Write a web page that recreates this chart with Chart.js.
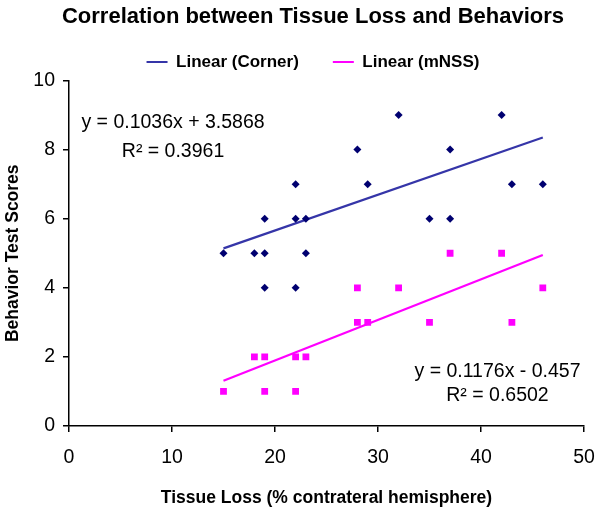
<!DOCTYPE html>
<html>
<head>
<meta charset="utf-8">
<script src="https://cdn.jsdelivr.net/npm/chart.js@4"></script>
<style>
  html, body { margin: 0; padding: 0; background: #fff; }
  #wrap { width: 600px; height: 513px; }
</style>
</head>
<body>
<div id="wrap"><canvas id="scatterChart" width="600" height="513"></canvas></div>
<script>
// Corner test scores vs tissue loss
const cornerX = [15, 18, 19, 19, 19, 22, 22, 22, 23, 23, 28, 29, 32, 35, 37, 37, 42, 43, 46];
const cornerY = [5, 5, 6, 5, 4, 7, 6, 4, 6, 5, 8, 7, 9, 6, 8, 6, 9, 7, 7];

// mNSS scores vs tissue loss
const mnssX = [15, 18, 19, 19, 22, 22, 23, 28, 28, 29, 32, 35, 37, 42, 43, 46];
const mnssY = [1, 2, 2, 1, 2, 1, 2, 4, 3, 3, 4, 3, 5, 5, 3, 4];

// trendline ends
const cornerTrendX = [15, 46];
const cornerTrendY = [5.14, 8.35];
const mnssTrendX = [15, 46];
const mnssTrendY = [1.31, 4.95];

const xTicks = [0, 10, 20, 30, 40, 50];
const yTicks = [0, 2, 4, 6, 8, 10];

// equation labels and where they sit (in data units)
const cornerEq = ["y = 0.1036x + 3.5868", "R\u00b2 = 0.3961"];
const cornerEqAt = [10.1, 8.78];
const mnssEq = ["y = 0.1176x - 0.457", "R\u00b2 = 0.6502"];
const mnssEqAt = [41.6, 1.57];

const FONT = "'Liberation Sans', Arial, sans-serif";

const toPoints = (xs, ys) => xs.map((x, i) => ({ x: x, y: ys[i] }));

// draws the two regression equations
const equationPlugin = {
  id: "equations",
  afterDatasetsDraw(chart) {
    const ctx = chart.ctx;
    const xs = chart.scales.x;
    const ys = chart.scales.y;
    ctx.save();
    ctx.fillStyle = "#000";
    ctx.font = "19.5px " + FONT;
    ctx.textAlign = "center";
    ctx.textBaseline = "middle";
    [[cornerEq, cornerEqAt, 29], [mnssEq, mnssEqAt, 24]].forEach(([lines, at, gap]) => {
      const px = xs.getPixelForValue(at[0]);
      const py = ys.getPixelForValue(at[1]);
      ctx.fillText(lines[0], px, py);
      ctx.fillText(lines[1], px, py + gap);
    });
    ctx.restore();
  },
};

const ctx = document.getElementById("scatterChart");

new Chart(ctx, {
  type: "scatter",
  data: {
    datasets: [
      {
        label: "Corner",
        data: toPoints(cornerX, cornerY),
        pointStyle: "rectRot",
        pointRadius: 4,
        backgroundColor: "#000070",
        borderColor: "#000070",
        borderWidth: 0,
      },
      {
        label: "mNSS",
        data: toPoints(mnssX, mnssY),
        pointStyle: "rect",
        pointRadius: 4.8,
        backgroundColor: "#ff00ff",
        borderColor: "#ff00ff",
        borderWidth: 0,
      },
      {
        label: "Linear (Corner)",
        data: toPoints(cornerTrendX, cornerTrendY),
        showLine: true,
        pointRadius: 0,
        borderColor: "#3535a8",
        backgroundColor: "#3535a8",
        borderWidth: 2.2,
        pointStyle: "line",
      },
      {
        label: "Linear (mNSS)",
        data: toPoints(mnssTrendX, mnssTrendY),
        showLine: true,
        pointRadius: 0,
        borderColor: "#ff00ff",
        backgroundColor: "#ff00ff",
        borderWidth: 2.2,
        pointStyle: "line",
      },
    ],
  },
  options: {
    responsive: false,
    animation: false,
    layout: { padding: { left: 26, right: 0, top: 0, bottom: 0 } },
    plugins: {
      tooltip: { enabled: false },
      title: {
        display: true,
        text: "Correlation between Tissue Loss and Behaviors",
        color: "#000",
        font: { family: FONT, size: 22, weight: "bold" },
        padding: { top: 4, bottom: -10.9 },
      },
      legend: {
        position: "top",
        labels: {
          filter: (item) => item.text.startsWith("Linear"),
          usePointStyle: true,
          pointStyleWidth: 21,
          color: "#000",
          font: { family: FONT, size: 17, weight: "bold" },
          padding: 34,
        },
      },
    },
    scales: {
      x: {
        type: "linear",
        min: 0,
        max: 50,
        afterBuildTicks: (scale) => {
          scale.ticks = xTicks.map((v) => ({ value: v }));
        },
        afterFit: (scale) => {
          scale.height = 87;
          scale.paddingRight = 16;
        },
        border: { color: "#000", width: 1.5 },
        grid: { display: true, drawOnChartArea: false, color: "#000", tickLength: 6, lineWidth: 1.5 },
        ticks: { color: "#000", font: { family: FONT, size: 19.5 }, padding: 14, maxRotation: 0 },
        title: {
          display: true,
          text: "Tissue Loss (% contrateral hemisphere)",
          color: "#000",
          font: { family: FONT, size: 17.5, weight: "bold" },
          padding: { top: 0, bottom: 4 },
        },
      },
      y: {
        type: "linear",
        min: 0,
        max: 10,
        afterBuildTicks: (scale) => {
          scale.ticks = yTicks.map((v) => ({ value: v }));
        },
        afterFit: (scale) => {
          scale.width = 43;
        },
        border: { color: "#000", width: 1.5 },
        grid: { display: true, drawOnChartArea: false, color: "#000", tickLength: 6, lineWidth: 1.5 },
        ticks: { color: "#000", font: { family: FONT, size: 19.5 }, padding: 8 },
        title: {
          display: true,
          text: "Behavior Test Scores",
          color: "#000",
          font: { family: FONT, size: 17.5, weight: "bold" },
          // pulled left, past the layout padding
          padding: { top: -23.5, bottom: 0 },
        },
      },
    },
  },
  plugins: [equationPlugin],
});
</script>
</body>
</html>
